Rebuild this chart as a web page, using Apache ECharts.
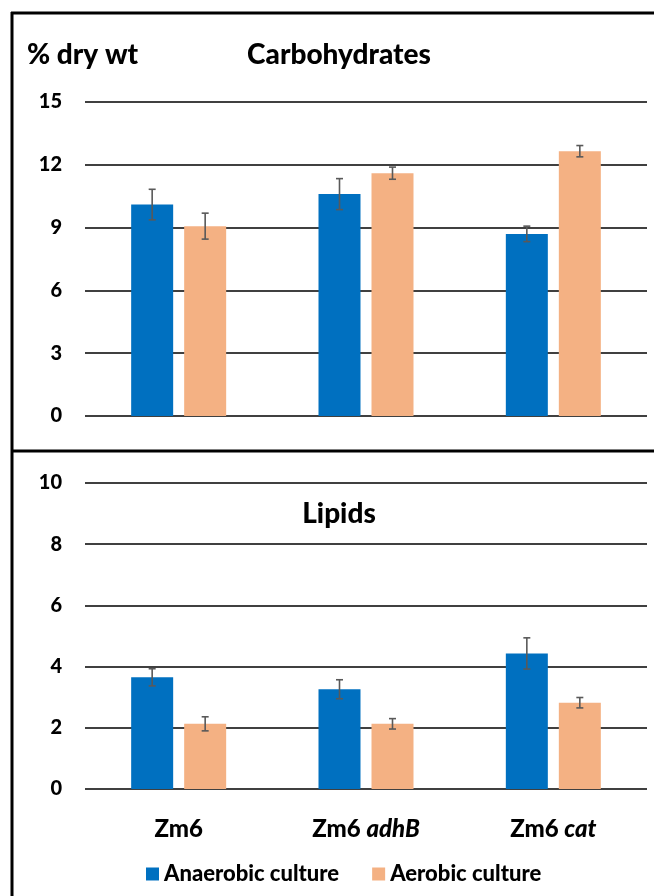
<!DOCTYPE html>
<html>
<head>
<meta charset="utf-8">
<script src="https://cdn.jsdelivr.net/npm/echarts@6/dist/echarts.min.js"></script>
<style>
  html, body { margin: 0; padding: 0; background: #fff; }
  #chart { width: 654px; height: 896px; }
</style>
</head>
<body>
<div id="chart"></div>
<script>
// values
var categories = ['Zm6', 'Zm6 adhB', 'Zm6 cat'];
var seriesNames = ['Anaerobic culture', 'Aerobic culture'];

var carbAnaerobic = [10.1, 10.6, 8.7];
var carbAnaerobicErr = [0.73, 0.74, 0.37];
var carbAerobic = [9.07, 11.6, 12.65];
var carbAerobicErr = [0.62, 0.29, 0.27];

var lipidAnaerobic = [3.65, 3.26, 4.43];
var lipidAnaerobicErr = [0.28, 0.31, 0.51];
var lipidAerobic = [2.13, 2.13, 2.82];
var lipidAerobicErr = [0.23, 0.17, 0.17];

var carbAxis = [0, 15, 3];   // min, max, interval
var lipidAxis = [0, 10, 2];

var BLUE = '#0070C0';
var ORANGE = '#F4B183';
var FONT = 'Lato, "Open Sans", sans-serif';
var WEIGHT = 900;
var BAR_W = 42;
var BAR_GAP = 11;

function value_axis(grid, ax){
    return {
        type: 'value', gridIndex: grid,
        min: ax[0], max: ax[1], interval: ax[2],
        axisLine: {show: false}, axisTick: {show: false},
        axisLabel: {color: '#000', fontFamily: FONT, fontWeight: WEIGHT, fontSize: 20, margin: 23},
        splitLine: {lineStyle: {color: '#000', width: 1.7}}
    };
}

function cat_axis(grid, showLabel){
    return {
        type: 'category', gridIndex: grid, data: categories,
        axisLine: {show: false}, axisTick: {show: false},
        axisLabel: {
            show: showLabel, margin: 28, interval: 0,
            formatter: function(v){
                var p = v.split(' ');
                if(p.length == 1) return '{b|' + v + '}';
                return '{b|' + p[0] + ' }{i|' + p[1] + '}';
            },
            rich: {
                b: {fontFamily: FONT, fontWeight: WEIGHT, fontSize: 24, color: '#000'},
                i: {fontFamily: FONT, fontWeight: WEIGHT, fontStyle: 'italic', fontSize: 24, color: '#000'}
            }
        }
    };
}

function bar_series(name, grid, data, color){
    return {
        name: name, type: 'bar', xAxisIndex: grid, yAxisIndex: grid,
        data: data, barWidth: BAR_W, barGap: (BAR_GAP / BAR_W * 100).toFixed(1) + '%',
        itemStyle: {color: color}
    };
}

function err_series(grid, vals, errs, side){
    var d = [];
    for(var i in vals){
        d.push([Number(i), vals[i] - errs[i], vals[i] + errs[i]]);
    }
    return {
        type: 'custom', xAxisIndex: grid, yAxisIndex: grid, z: 5,
        silent: true,
        data: d,
        renderItem: function(params, api){
            var lo = api.coord([api.value(0), api.value(1)]);
            var hi = api.coord([api.value(0), api.value(2)]);
            var x = lo[0] + side * (BAR_W + BAR_GAP) / 2;
            var style = {stroke: '#595959', lineWidth: 1.6};
            return {
                type: 'group',
                children: [
                    {type: 'line', shape: {x1: x, y1: lo[1], x2: x, y2: hi[1]}, style: style},
                    {type: 'line', shape: {x1: x - 3.5, y1: lo[1], x2: x + 3.5, y2: lo[1]}, style: style},
                    {type: 'line', shape: {x1: x - 3.5, y1: hi[1], x2: x + 3.5, y2: hi[1]}, style: style}
                ]
            };
        }
    };
}

function plot(){
    var canvas = echarts.init(document.getElementById('chart'));
    var titleStyle = {fontFamily: FONT, fontWeight: WEIGHT, fontSize: 28, color: '#000'};
    option = {
        animation: false,
        backgroundColor: '#fff',
        title: [
            {text: '% dry wt', left: 22, top: 36, textStyle: titleStyle},
            {text: 'Carbohydrates', left: 334, top: 36, textAlign: 'center', textStyle: titleStyle},
            {text: 'Lipids', left: 334, top: 495, textAlign: 'center', textStyle: titleStyle}
        ],
        legend: {
            data: seriesNames,
            left: 141, top: 858,
            icon: 'rect', itemWidth: 13, itemHeight: 13, itemGap: 33,
            textStyle: {fontFamily: FONT, fontWeight: WEIGHT, fontSize: 22, color: '#000'}
        },
        grid: [
            {left: 85, right: 7, top: 102, bottom: 480},
            {left: 85, right: 7, top: 483, bottom: 107}
        ],
        xAxis: [cat_axis(0, false), cat_axis(1, true)],
        yAxis: [value_axis(0, carbAxis), value_axis(1, lipidAxis)],
        series: [
            bar_series(seriesNames[0], 0, carbAnaerobic, BLUE),
            bar_series(seriesNames[1], 0, carbAerobic, ORANGE),
            bar_series(seriesNames[0], 1, lipidAnaerobic, BLUE),
            bar_series(seriesNames[1], 1, lipidAerobic, ORANGE),
            err_series(0, carbAnaerobic, carbAnaerobicErr, -1),
            err_series(0, carbAerobic, carbAerobicErr, 1),
            err_series(1, lipidAnaerobic, lipidAnaerobicErr, -1),
            err_series(1, lipidAerobic, lipidAerobicErr, 1)
        ],
        graphic: [
            // panel frame
            {type: 'line', shape: {x1: 11, y1: 13, x2: 654, y2: 13}, style: {stroke: '#000', lineWidth: 3}},
            {type: 'line', shape: {x1: 12, y1: 12, x2: 12, y2: 896}, style: {stroke: '#000', lineWidth: 3}},
            {type: 'line', shape: {x1: 11, y1: 451, x2: 654, y2: 451}, style: {stroke: '#000', lineWidth: 3}}
        ]
    };
    canvas.setOption(option);
}

plot();
</script>
</body>
</html>
